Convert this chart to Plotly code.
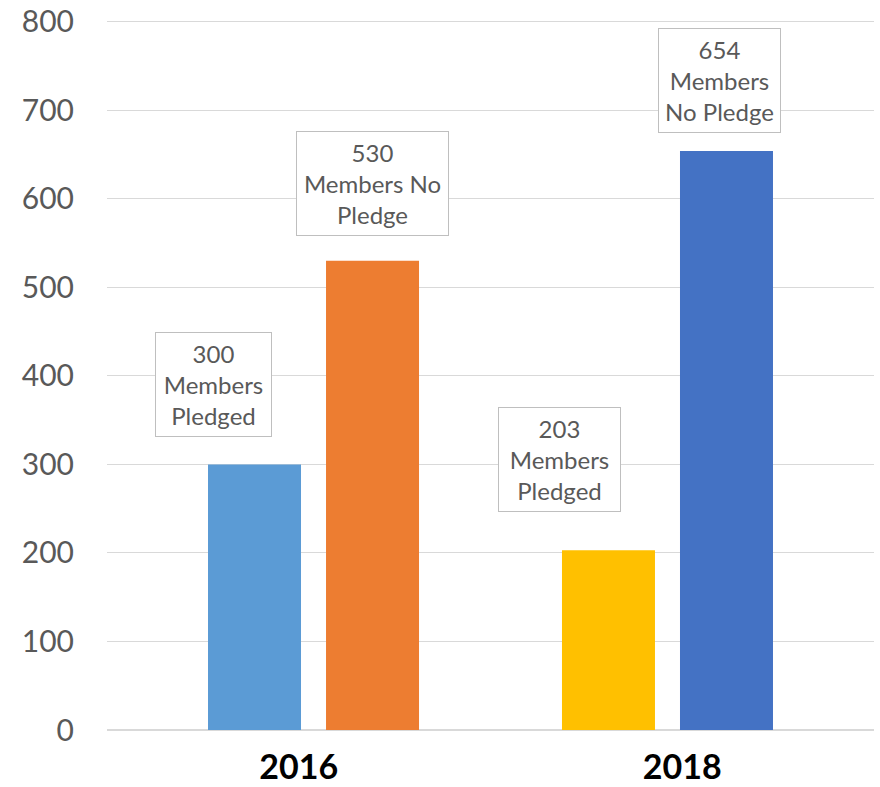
import plotly.graph_objects as go

# ---- data ----
years = ["2016", "2018"]
pledged = [300, 203]
no_pledge = [530, 654]
pledged_colors = ["#5B9BD5", "#FFC000"]
no_pledge_colors = ["#ED7D31", "#4472C4"]
pledged_labels = ["{v}<br>Members<br>Pledged", "{v}<br>Members<br>Pledged"]
no_pledge_labels = ["{v}<br>Members No<br>Pledge", "{v}<br>Members<br>No Pledge"]
y_ticks = [0, 100, 200, 300, 400, 500, 600, 700, 800]

# ---- layout tweaks (bar placement inside each category, label offsets) ----
BAR_W = 0.2425
pledged_offsets = [-0.2366, -0.3136]
no_pledge_offsets = [0.0711, -0.0059]
# label box: (xshift px from bar centre, yshift px above bar top, box width px)
pledged_lbl = [(-41, 27, 103), (-49, 38, 109)]
no_pledge_lbl = [(0, 25, 139), (-7, 18, 109)]

FONT = "Lato, 'Open Sans', sans-serif"
GREY = "#595959"

fig = go.Figure()
fig.add_trace(go.Bar(
    x=years, y=pledged, width=[BAR_W] * len(years), offset=pledged_offsets,
    marker=dict(color=pledged_colors, line=dict(width=0)), name="Pledged",
    hoverinfo="skip",
))
fig.add_trace(go.Bar(
    x=years, y=no_pledge, width=[BAR_W] * len(years), offset=no_pledge_offsets,
    marker=dict(color=no_pledge_colors, line=dict(width=0)), name="No Pledge",
    hoverinfo="skip",
))

annotations = []
for vals, offs, tmpls, lbls in [
    (pledged, pledged_offsets, pledged_labels, pledged_lbl),
    (no_pledge, no_pledge_offsets, no_pledge_labels, no_pledge_lbl),
]:
    for i, v in enumerate(vals):
        xs, ys, w = lbls[i]
        annotations.append(dict(
            x=i + offs[i] + BAR_W / 2, y=v, xref="x", yref="y",
            text=tmpls[i].format(v=v), showarrow=False,
            xanchor="center", yanchor="bottom", xshift=xs, yshift=ys,
            width=w, align="center",
            font=dict(family=FONT, size=24, color=GREY),
            bgcolor="white", bordercolor="#BFBFBF", borderwidth=1, borderpad=6,
        ))

fig.update_layout(
    width=880, height=787,
    margin=dict(l=107, r=6, t=20, b=57, autoexpand=False),
    paper_bgcolor="white", plot_bgcolor="white",
    showlegend=False,
    barmode="group",
    hovermode=False,
    annotations=annotations,
    xaxis=dict(
        type="category", range=[-0.5, 1.5], automargin=False,
        showgrid=False, zeroline=False, showline=False,
        ticks="", ticklabelstandoff=14, ticklabeloverflow="allow",
        tickfont=dict(family=FONT, size=34, color="#000000", weight="bold"),
    ),
    yaxis=dict(
        range=[0, 802], tickvals=y_ticks, automargin=False,
        showgrid=True, gridcolor="#D9D9D9", gridwidth=1,
        zeroline=True, zerolinecolor="#D9D9D9", zerolinewidth=2,
        showline=False, ticks="", ticklabelstandoff=32, ticklabeloverflow="allow",
        tickfont=dict(family=FONT, size=30, color=GREY),
    ),
)

fig.write_html(
    "out.html",
    config={"displayModeBar": False, "staticPlot": True},
    post_script="document.body.style.margin='0';document.body.style.overflow='hidden';",
)
